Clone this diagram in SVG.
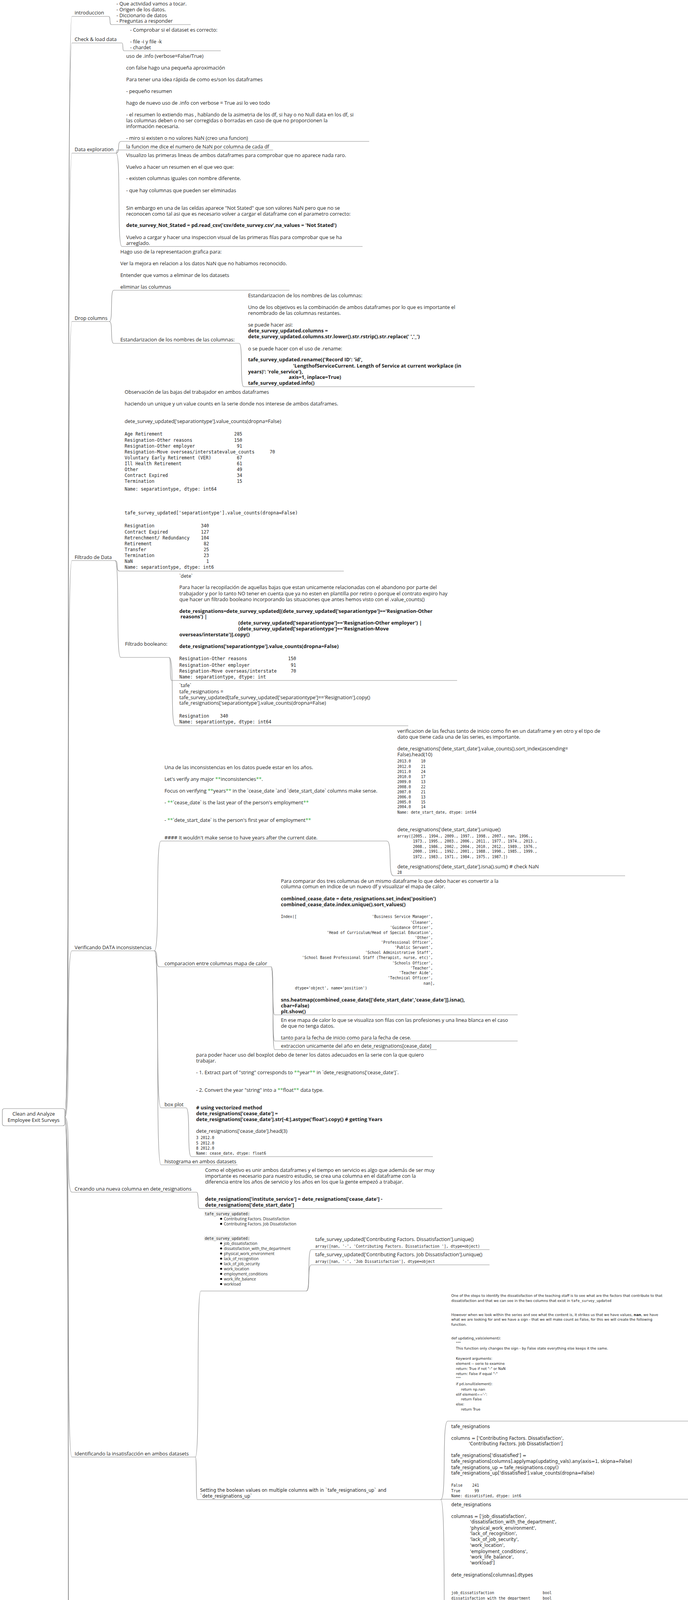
<svg xmlns="http://www.w3.org/2000/svg" width="1761" height="5922" viewBox="0 0 1761 5922">
<style>
text{font-family:"Open Sans","Liberation Sans",sans-serif;font-size:12.8px;fill:#1e1e1e}
.b{font-weight:bold}
.m{font-family:"DejaVu Sans Mono","Liberation Mono",monospace;font-size:11.5px}
.ms{font-family:"DejaVu Sans Mono","Liberation Mono",monospace;font-size:9.6px}
.mq{font-family:"DejaVu Sans Mono","Liberation Mono",monospace;font-size:10px}
.d{font-family:"DejaVu Sans","Liberation Sans",sans-serif;font-size:11.5px}
.dl{font-family:"DejaVu Sans","Liberation Sans",sans-serif;font-size:12px}
.ds{font-family:"DejaVu Sans","Liberation Sans",sans-serif;font-size:9px}
.dt{font-family:"DejaVu Sans","Liberation Sans",sans-serif;font-size:9.5px}
.sm{font-size:10px}
.br{font-weight:bold;font-size:10.5px}
.c{font-family:"Liberation Mono","DejaVu Sans Mono",monospace;font-size:11.5px;fill:#8a8a8a}
.e{text-anchor:end}
.mid{text-anchor:middle}
.g{fill:#3cb043}
path{fill:none;stroke:#8c8c8c;stroke-width:1.2}
.box{fill:#fff;stroke:#8c8c8c;stroke-width:1.2}
.bg{fill:#f1f1f1}
</style>

<g id="connectors">
<path d="M166,2860 C182.2,2860 167.8,42 184,42"/>
<path d="M166,2860 C182.2,2860 167.8,110 184,110"/>
<path d="M166,2860 C182.2,2860 167.8,392 184,392"/>
<path d="M166,2860 C182.2,2860 167.8,823 184,823"/>
<path d="M166,2860 C182.2,2860 167.8,1435 184,1435"/>
<path d="M166,2860 C182.2,2860 167.8,2434 184,2434"/>
<path d="M166,2860 C182.2,2860 167.8,3052 184,3052"/>
<path d="M166,2860 C182.2,2860 167.8,3730 184,3730"/>
<path d="M166,2860 C182.2,2860 167.8,4712 184,4712"/>
<path d="M166,2860 C182.2,2860 167.8,5233 184,5233"/>
<path d="M166,2860 C182.2,2860 167.8,5662 184,5662"/>
<path d="M278,42 C284.3,42 278.7,63 285,63"/>
<path d="M312,110 C316.5,110 312.5,130 317,130"/>
<path d="M297,392 C308.7,392 298.3,362 310,362"/>
<path d="M297,392 C300.6,392 297.4,384 301,384"/>
<path d="M297,392 C310.5,392 298.5,631 312,631"/>
<path d="M280,823 C289.9,823 281.1,743 291,743"/>
<path d="M280,823 C289.9,823 281.1,879 291,879"/>
<path d="M612,879 C622.8,879 613.2,990 624,990"/>
<path d="M294,1435 C304.8,1435 295.2,1462 306,1462"/>
<path d="M294,1435 C307.5,1435 295.5,1683 309,1683"/>
<path d="M433,1683 C438.4,1683 433.6,1742 439,1742"/>
<path d="M433,1683 C447.4,1683 434.6,1858 449,1858"/>
<path d="M395,2434 C410.3,2434 396.7,2153 412,2153"/>
<path d="M395,2434 C406.7,2434 396.3,2475 408,2475"/>
<path d="M395,2434 C410.3,2434 396.7,2836 412,2836"/>
<path d="M395,2434 C410.3,2434 396.7,2982 412,2982"/>
<path d="M990,2153 C1005.3,2153 991.7,2242 1007,2242"/>
<path d="M694,2475 C702.1,2475 694.9,2598 703,2598"/>
<path d="M694,2475 C702.1,2475 694.9,2665 703,2665"/>
<path d="M694,2475 C702.1,2475 694.9,2687 703,2687"/>
<path d="M476,2836 C488.6,2836 477.4,2961 490,2961"/>
<path d="M503,3052 C510.2,3052 503.8,3094 511,3094"/>
<path d="M500,3730 C512.6,3730 501.4,3305 514,3305"/>
<path d="M500,3730 C504.5,3730 500.5,3839 505,3839"/>
<path d="M784,3305 C795.7,3305 785.3,3199 797,3199"/>
<path d="M784,3305 C795.7,3305 785.3,3238 797,3238"/>
<path d="M1128,3839 C1144.2,3839 1129.8,3638 1146,3638"/>
<path d="M1128,3839 L1131,3838"/>
<path d="M1128,3839 C1144.2,3839 1129.8,4338 1146,4338"/>
<path d="M346,4712 C357.7,4712 347.3,4653 359,4653"/>
<path d="M346,4712 C361.3,4712 347.7,5059 363,5059"/>
<path d="M981,4653 C991.8,4653 982.2,4602 993,4602"/>
<path d="M981,4653 C991.8,4653 982.2,4704 993,4704"/>
<path d="M250,5233 C268,5233 252,5384 270,5384"/>
<path d="M280,5662 C296.2,5662 281.8,5452 298,5452"/>
<path d="M280,5662 C296.2,5662 281.8,5761 298,5761"/>
<path d="M918,5761 C930.6,5761 919.4,5598 932,5598"/>
<path d="M918,5761 C930.6,5761 919.4,5689 932,5689"/>
<path d="M918,5761 C930.6,5761 919.4,5899 932,5899"/>
</g>

<g id="root">
<rect class="box" x="6" y="2838" width="160" height="44" rx="5"/>
<text class="mid" x="86" y="2856">Clean and Analyze</text>
<text class="mid" x="86" y="2872">Employee Exit Surveys</text>
</g>

<!-- introduccion -->
<g id="n-introduccion"><text x="191" y="37">introduccion</text><path d="M184,42H278"/></g>
<g id="n-intro-items">
<text x="298" y="14">- Que actividad vamos a tocar.</text>
<text x="298" y="29">- Origen de los datos.</text>
<text x="298" y="44">- Diccionario de datos</text>
<text x="298" y="58">- Preguntas a responder</text>
<path d="M285,63H488"/>
</g>

<!-- check & load -->
<g id="n-check"><text x="191" y="105">Check &amp; load data</text><path d="M184,110H312"/></g>
<g id="n-check-items">
<text x="333" y="81">- Comprobar si el dataset es correcto:</text>
<text x="333" y="111">- file -i y file -k</text>
<text x="333" y="126">- chardet</text>
<path d="M317,130H565"/>
</g>

<!-- data exploration -->
<g id="n-dataexp"><text x="191" y="387">Data exploration</text><path d="M184,392H297"/></g>
<g id="n-dataexp-info">
<text x="323" y="148">uso de .info (verbose=False/True)</text>
<text x="323" y="178">con false hago una pequeña aproximación</text>
<text x="323" y="208">Para tener una idea rápida de como es/son los dataframes</text>
<text x="323" y="238">- pequeño resumen</text>
<text x="323" y="268">hago de nuevo uso de .info con verbose = True asi lo veo todo</text>
<text x="323" y="298">- el resumen lo extiendo mas , hablando de la asimetria de los df, si hay o no Null data en los df, si</text>
<text x="323" y="313">las columnas deben o no ser  corregidas o borradas en caso de que no proporcionen la</text>
<text x="323" y="328">información necesaria.</text>
<text x="323" y="358">- miro si existen o no valores NaN (creo una funcion)</text>
<path d="M310,362H945"/>
</g>
<g id="n-dataexp-nan">
<text x="323" y="380">la funcion me dice el numero de NaN por columna de cada df</text>
<path d="M301,384H699"/>
</g>
<g id="n-dataexp-visual">
<text x="323" y="402">Visualizo las primeras lineas de ambos dataframes para comprobar que no aparece nada raro.</text>
<text x="323" y="432">Vuelvo a hacer un resumen en el que veo que:</text>
<text x="323" y="461">- existen columnas iguales con nombre diferente.</text>
<text x="323" y="492">- que hay columnas que pueden ser eliminadas</text>
<text x="323" y="537">Sin embargo en una de las celdas aparece "Not Stated" que son valores NaN pero que no se</text>
<text x="323" y="552">reconocen como tal asi que es necesario volver a cargar el dataframe con el parametro correcto:</text>
<text class="b" x="323" y="581">dete_survey_Not_Stated = pd.read_csv('csv/dete_survey.csv',na_values = 'Not Stated')</text>
<text x="323" y="612">Vuelvo a cargar y hacer una inspeccion visual de las primeras filas para comprobar que se ha</text>
<text x="323" y="627">arreglado.</text>
<path d="M312,631H928"/>
</g>

<!-- drop columns -->
<g id="n-drop"><text x="191" y="819">Drop columns</text><path d="M184,823H280"/></g>
<g id="n-drop-graf">
<text x="308" y="649">Hago uso de la representacion grafica para:</text>
<text x="308" y="679">Ver la mejora en relacion a los datos NaN que no habiamos reconocido.</text>
<text x="308" y="709">Entender que vamos a eliminar de los datasets</text>
<text x="308" y="739">eliminar las columnas</text>
<path d="M291,743H741"/>
</g>
<g id="n-drop-estand">
<text x="308" y="874">Estandarizacion de los nombres de las columnas:</text>
<path d="M291,879H612"/>
</g>
<g id="n-drop-estand-detail">
<text x="635" y="761">Estandarizacion de los nombres de las columnas:</text>
<text x="635" y="791">Uno de los objetivos es la combinación de ambos dataframes por lo que es importante el</text>
<text x="635" y="806">renombrado de las columnas restantes.</text>
<text x="635" y="836">se puede hacer asi:</text>
<text class="b" x="635" y="851">dete_survey_updated.columns =</text>
<text class="b" x="635" y="866">dete_survey_updated.columns.str.lower().str.rstrip().str.replace(' ','_')</text>
<text x="635" y="897">o se puede hacer con el uso de .rename:</text>
<text class="b" x="635" y="925">tafe_survey_updated.rename({'Record ID': 'id',</text>
<text class="b" x="750" y="941">'LengthofServiceCurrent. Length of Service at current workplace (in</text>
<text class="b" x="635" y="956">years)': 'role_service'},</text>
<text class="b" x="739" y="970">axis=1, inplace=True)</text>
<text class="b" x="635" y="985">tafe_survey_updated.info()</text>
<path d="M624,990H1215"/>
</g>

<!-- filtrado -->
<g id="n-filtrado"><text x="191" y="1431">Filtrado de Data</text><path d="M184,1435H294"/></g>
<g id="n-filtrado-obs">
<text x="319" y="1008">Observación de las bajas del trabajador en ambos dataframes</text>
<text x="319" y="1038">haciendo un unique y un value counts en la serie donde nos interese de ambos dataframes.</text>
<text x="319" y="1083">dete_survey_updated['separationtype'].value_counts(dropna=False)</text>
<text class="m" x="319" y="1115">Age Retirement</text><text class="m e" x="620" y="1115">285</text>
<text class="m" x="319" y="1131">Resignation-Other reasons</text><text class="m e" x="620" y="1131">150</text>
<text class="m" x="319" y="1146">Resignation-Other employer</text><text class="m e" x="620" y="1146">91</text>
<text class="m" x="319" y="1161">Resignation-Move overseas/interstatevalue_counts</text><text class="m e" x="704" y="1161">70</text>
<text class="m" x="319" y="1176">Voluntary Early Retirement (VER)</text><text class="m e" x="620" y="1176">67</text>
<text class="m" x="319" y="1191">Ill Health Retirement</text><text class="m e" x="620" y="1191">61</text>
<text class="m" x="319" y="1206">Other</text><text class="m e" x="620" y="1206">49</text>
<text class="m" x="319" y="1221">Contract Expired</text><text class="m e" x="620" y="1221">34</text>
<text class="m" x="319" y="1236">Termination</text><text class="m e" x="620" y="1236">15</text>
<text class="m" x="319" y="1256">Name: separationtype, dtype: int64</text>
<text class="m" x="319" y="1317">tafe_survey_updated['separationtype'].value_counts(dropna=False)</text>
<text class="m" x="319" y="1350">Resignation</text><text class="m e" x="535" y="1350">340</text>
<text class="m" x="319" y="1366">Contract Expired</text><text class="m e" x="535" y="1366">127</text>
<text class="m" x="319" y="1381">Retrenchment/ Redundancy</text><text class="m e" x="535" y="1381">104</text>
<text class="m" x="319" y="1396">Retirement</text><text class="m e" x="535" y="1396">82</text>
<text class="m" x="319" y="1411">Transfer</text><text class="m e" x="535" y="1411">25</text>
<text class="m" x="319" y="1426">Termination</text><text class="m e" x="535" y="1426">23</text>
<text class="m" x="319" y="1441">NaN</text><text class="m e" x="535" y="1441">1</text>
<text class="m" x="319" y="1456">Name: separationtype, dtype: int6</text>
<path d="M306,1462H880"/>
</g>
<g id="n-filtrado-bool">
<text x="320" y="1653">Filtrado booleano:</text>
<path d="M309,1683H433"/>
</g>
<g id="n-filtrado-dete">
<text x="459" y="1479">`dete`</text>
<text x="459" y="1508">Para hacer la recopilación de aquellas bajas que estan unicamente relacionadas con el abandono por parte del</text>
<text x="459" y="1524">trabajador y por lo tanto NO tener en cuenta que ya no esten en plantilla por retiro o porque el contrato expiro hay</text>
<text x="459" y="1539">que hacer un filtrado booleano incorporando las situaciones que antes hemos visto con el .value_counts()</text>
<text class="b" x="459" y="1569">dete_resignations=dete_survey_updated[(dete_survey_updated['separationtype']=='Resignation-Other</text>
<text class="b" x="462" y="1583">reasons') |</text>
<text class="b" x="610" y="1599">(dete_survey_updated['separationtype']=='Resignation-Other employer') |</text>
<text class="b" x="610" y="1614">(dete_survey_updated['separationtype']=='Resignation-Move</text>
<text class="b" x="459" y="1629">overseas/interstate')].copy()</text>
<text class="b" x="459" y="1659">dete_resignations['separationtype'].value_counts(dropna=False)</text>
<text class="m" x="459" y="1690">Resignation-Other reasons</text><text class="m e" x="758" y="1690">150</text>
<text class="m" x="459" y="1707">Resignation-Other employer</text><text class="m e" x="758" y="1707">91</text>
<text class="m" x="459" y="1722">Resignation-Move overseas/interstate</text><text class="m e" x="758" y="1722">70</text>
<text class="m" x="459" y="1737">Name: separationtype, dtype: int</text>
<path d="M439,1742H1170"/>
</g>
<g id="n-filtrado-tafe">
<text x="459" y="1759">`tafe`</text>
<text x="459" y="1775">tafe_resignations =</text>
<text x="459" y="1790">tafe_survey_updated[tafe_survey_updated['separationtype']=='Resignation'].copy()</text>
<text x="459" y="1804">tafe_resignations['separationtype'].value_counts(dropna=False)</text>
<text class="m" x="459" y="1837">Resignation</text><text class="m e" x="584" y="1837">340</text>
<text class="m" x="459" y="1852">Name: separationtype, dtype: int64</text>
<path d="M449,1858H1045"/>
</g>

<!-- verificando -->
<g id="n-verif"><text x="191" y="2430">Verificando DATA inconsistencias</text><path d="M184,2434H395"/></g>
<g id="n-verif-years">
<text x="421" y="1969">Una de las inconsistencias en los datos puede estar en los años.</text>
<text x="421" y="1999">Let's verify any major <tspan class="g">**</tspan>inconsistencies<tspan class="g">**</tspan>.</text>
<text x="421" y="2029">Focus on verifying <tspan class="g">**</tspan>years<tspan class="g">**</tspan> in the `cease_date `and `dete_start_date` columns make sense.</text>
<text x="421" y="2059">- <tspan class="g">**</tspan>`cease_date` is the last year of the person's employment<tspan class="g">**</tspan></text>
<text x="421" y="2104">- <tspan class="g">**</tspan>`dete_start_date` is the person's first year of employment<tspan class="g">**</tspan></text>
<text x="421" y="2149">#### It wouldn't make sense to have years after the current date.</text>
<path d="M412,2153H990"/>
</g>
<g id="n-verif-fechas">
<text x="1017" y="1876">verificacion de las fechas tanto de inicio como fin en un dataframe y en otro y el tipo de</text>
<text x="1017" y="1891">dato que tiene cada una de las series, es importante.</text>
<text x="1017" y="1921">dete_resignations['dete_start_date'].value_counts().sort_index(ascending=</text>
<text x="1017" y="1936">False).head(10)</text>
<text class="ms" x="1017" y="1952">2013.0</text><text class="ms e" x="1089" y="1952">10</text>
<text class="ms" x="1017" y="1966">2012.0</text><text class="ms e" x="1089" y="1966">21</text>
<text class="ms" x="1017" y="1979">2011.0</text><text class="ms e" x="1089" y="1979">24</text>
<text class="ms" x="1017" y="1992">2010.0</text><text class="ms e" x="1089" y="1992">17</text>
<text class="ms" x="1017" y="2005">2009.0</text><text class="ms e" x="1089" y="2005">13</text>
<text class="ms" x="1017" y="2018">2008.0</text><text class="ms e" x="1089" y="2018">22</text>
<text class="ms" x="1017" y="2031">2007.0</text><text class="ms e" x="1089" y="2031">21</text>
<text class="ms" x="1017" y="2044">2006.0</text><text class="ms e" x="1089" y="2044">13</text>
<text class="ms" x="1017" y="2057">2005.0</text><text class="ms e" x="1089" y="2057">15</text>
<text class="ms" x="1017" y="2069">2004.0</text><text class="ms e" x="1089" y="2069">14</text>
<text class="ms" x="1017" y="2083">Name: dete_start_date, dtype: int64</text>
<text x="1017" y="2128">dete_resignations['dete_start_date'].unique()</text>
<text class="ms" x="1017" y="2144">array([2005., 1994., 2009., 1997., 1998., 2007.,   nan, 1996.,</text>
<text class="ms" x="1057" y="2157">1973., 1995., 2003., 2006., 2011., 1977., 1974., 2013.,</text>
<text class="ms" x="1057" y="2171">2008., 1986., 2002., 2004., 2010., 2012., 1989., 1976.,</text>
<text class="ms" x="1057" y="2183">2000., 1991., 1992., 2001., 1988., 1990., 1985., 1999.,</text>
<text class="ms" x="1057" y="2197">1972., 1983., 1971., 1984., 1975., 1987.])</text>
<text x="1017" y="2223">dete_resignations['dete_start_date'].isna().sum() # check NaN</text>
<text class="ms" x="1017" y="2237">28</text>
<path d="M1007,2242H1600"/>
</g>
<g id="n-verif-calor">
<text x="421" y="2471">comparacion entre columnas mapa de calor</text>
<path d="M408,2475H694"/>
</g>
<g id="n-verif-calor-code">
<text x="719" y="2260">Para comparar dos tres columnas de un mismo dataframe lo que debo hacer es convertir a la</text>
<text x="719" y="2274">columna comun en indice de un nuevo df y visualizar el mapa de calor.</text>
<text class="b" x="719" y="2305">combined_cease_date = dete_resignations.set_index('position')</text>
<text class="b" x="719" y="2320">combined_cease_date.index.unique().sort_values()</text>
<text class="ms" x="719" y="2350">Index([</text>
<text class="ms e" x="1108" y="2350">'Business Service Manager',</text>
<text class="ms e" x="1108" y="2365">'Cleaner',</text>
<text class="ms e" x="1108" y="2378">'Guidance Officer',</text>
<text class="ms e" x="1108" y="2391">'Head of Curriculum/Head of Special Education',</text>
<text class="ms e" x="1108" y="2404">'Other',</text>
<text class="ms e" x="1108" y="2416">'Professional Officer',</text>
<text class="ms e" x="1108" y="2429">'Public Servant',</text>
<text class="ms e" x="1108" y="2442">'School Administrative Staff',</text>
<text class="ms e" x="1108" y="2455">'School Based Professional Staff (Therapist, nurse, etc)',</text>
<text class="ms e" x="1108" y="2469">'Schools Officer',</text>
<text class="ms e" x="1108" y="2482">'Teacher',</text>
<text class="ms e" x="1108" y="2494">'Teacher Aide',</text>
<text class="ms e" x="1108" y="2507">'Technical Officer',</text>
<text class="ms e" x="1113" y="2521">nan],</text>
<text class="ms" x="755" y="2533">dtype='object', name='position')</text>
<text class="b" x="719" y="2564">sns.heatmap(combined_cease_date[['dete_start_date','cease_date']].isna(),</text>
<text class="b" x="719" y="2579">cbar=False)</text>
<text class="b" x="719" y="2594">plt.show()</text>
<path d="M703,2598H1325"/>
</g>
<g id="n-verif-calor-obs">
<text x="719" y="2616">En ese mapa de calor lo que se visualiza son filas con las profesiones y una linea blanca en el caso</text>
<text x="719" y="2631">de que no tenga datos.</text>
<text x="719" y="2661">tanto para la fecha de inicio como para la fecha de cese.</text>
<path d="M703,2665H1325"/>
</g>
<g id="n-verif-calor-extr">
<text x="719" y="2682">extraccion unicamente del año en dete_resignations[cease_date]</text>
<path d="M703,2687H1118"/>
</g>
<g id="n-verif-box">
<text x="421" y="2832">box plot</text>
<path d="M412,2836H476"/>
</g>
<g id="n-verif-box-code">
<text x="502" y="2705">para poder hacer uso del boxplot debo de tener los datos adecuados en la serie con la que quiero</text>
<text x="502" y="2720">trabajar.</text>
<text x="502" y="2750">- 1. Extract part of "string" corresponds to <tspan class="g">**</tspan>year<tspan class="g">**</tspan> in `dete_resignations['cease_date']`.</text>
<text x="502" y="2795">- 2. Convert the year "string" into a <tspan class="g">**</tspan>float<tspan class="g">**</tspan> data type.</text>
<text class="b" x="502" y="2840"># using vectorized method</text>
<text class="b" x="502" y="2855">dete_resignations['cease_date'] =</text>
<text class="b" x="502" y="2870">dete_resignations['cease_date'].str[-4:].astype('float').copy() # getting Years</text>
<text x="502" y="2900">dete_resignations['cease_date'].head(3)</text>
<text class="ms" x="502" y="2916">3    2012.0</text>
<text class="ms" x="502" y="2930">5    2012.0</text>
<text class="ms" x="502" y="2943">8    2012.0</text>
<text class="ms" x="502" y="2956">Name: cease_date, dtype: float6</text>
<path d="M490,2961H1108"/>
</g>
<g id="n-verif-hist">
<text x="421" y="2978">histograma en ambos datasets</text>
<path d="M412,2982H608"/>
</g>

<!-- creando -->
<g id="n-creando"><text x="191" y="3048">Creando una nueva columna en dete_resignations</text><path d="M184,3052H503"/></g>
<g id="n-creando-code">
<text x="525" y="3000">Como el objetivo es unir ambos dataframes y el tiempo en servicio es algo que además de ser muy</text>
<text x="525" y="3015">importante es necesario para nuestro estudio, se crea una columna en el dataframe con la</text>
<text x="525" y="3030">diferencia entre los años de servicio y los años en los que la gente empezó a trabajar.</text>
<text class="b" x="525" y="3074">dete_resignations['institute_service'] = dete_resignations['cease_date'] -</text>
<text class="b" x="525" y="3089">dete_resignations['dete_start_date']</text>
<path d="M511,3094H1132"/>
</g>

<!-- identificando -->
<g id="n-ident"><text x="191" y="3726">Identificando la insatisfacción en ambos datasets</text><path d="M184,3730H500"/></g>
<g id="n-ident-cols">
<rect class="bg" x="522" y="3101" width="117" height="13"/>
<text class="ms" x="524" y="3111">tafe_survey_updated:</text>
<circle cx="566" cy="3120" r="2.6"/><text class="sm" x="573" y="3124">Contributing Factors. Dissatisfaction</text>
<circle cx="566" cy="3133" r="2.6"/><text class="sm" x="573" y="3137">Contributing Factors. Job Dissatisfaction</text>
<rect class="bg" x="522" y="3164" width="117" height="13"/>
<text class="ms" x="524" y="3174">dete_survey_updated:</text>
<circle cx="566" cy="3183" r="2.6"/><text class="sm" x="573" y="3187">job_dissatisfaction</text>
<circle cx="566" cy="3196" r="2.6"/><text class="sm" x="573" y="3200">dissatisfaction_with_the_department</text>
<circle cx="566" cy="3209" r="2.6"/><text class="sm" x="573" y="3213">physical_work_environment</text>
<circle cx="566" cy="3222" r="2.6"/><text class="sm" x="573" y="3226">lack_of_recognition</text>
<circle cx="566" cy="3235" r="2.6"/><text class="sm" x="573" y="3239">lack_of_job_security</text>
<circle cx="566" cy="3248" r="2.6"/><text class="sm" x="573" y="3252">work_location</text>
<circle cx="566" cy="3261" r="2.6"/><text class="sm" x="573" y="3265">employment_conditions</text>
<circle cx="566" cy="3274" r="2.6"/><text class="sm" x="573" y="3278">work_life_balance</text>
<circle cx="566" cy="3287" r="2.6"/><text class="sm" x="573" y="3291">workload</text>
<path d="M514,3305H784"/>
</g>
<g id="n-ident-unique1">
<text x="807" y="3177">tafe_survey_updated['Contributing Factors. Dissatisfaction'].unique()</text>
<text class="ms" x="807" y="3194">array([nan, '-', 'Contributing Factors. Dissatisfaction '], dtype=object)</text>
<path d="M797,3199H1253"/>
</g>
<g id="n-ident-unique2">
<text x="807" y="3216">tafe_survey_updated['Contributing Factors. Job Dissatisfaction'].unique()</text>
<text class="ms" x="807" y="3233">array([nan, '-', 'Job Dissatisfaction'], dtype=object</text>
<path d="M797,3238H1253"/>
</g>
<g id="n-ident-setting">
<text class="d" x="512" y="3819">Setting the boolean values on multiple columns with in `tafe_resignations_up` and</text>
<text class="d" x="512" y="3834">`dete_resignations_up`</text>
<path d="M505,3839H1128"/>
</g>
<g id="n-ident-func">
<text class="ds" x="1155" y="3320">One of the steps to identify the dissatisfaction of the teaching staff is to see what are the factors that contribute to that</text>
<text class="ds" x="1155" y="3333">dissatisfaction and that we can see in the two columns that exist in <tspan class="ms" style="font-size:9px">tafe_survey_updated</tspan></text>
<text class="ds" x="1155" y="3369">However when we look within the series and see what the content is, it strikes us that we have values, <tspan class="b">nan</tspan>, we have</text>
<text class="ds" x="1155" y="3381">what we are looking for and we have a sign - that we will make count as False, for this we will create the following</text>
<text class="ds" x="1155" y="3394">function.</text>
<text class="ds" x="1155" y="3429">def updating_vals(element):</text>
<text class="ds" x="1167" y="3442">"""</text>
<text class="ds" x="1167" y="3455">This function only changes the sign - by False state everything else keeps it the same.</text>
<text class="ds" x="1167" y="3481">Keyword arguments:</text>
<text class="ds" x="1167" y="3494">element -- serie to examine</text>
<text class="ds" x="1167" y="3507">return: True if not "-" or NaN</text>
<text class="ds" x="1167" y="3520">return: False if equal "-"</text>
<text class="ds" x="1167" y="3532">"""</text>
<text class="ds" x="1167" y="3546">if pd.isnull(element):</text>
<text class="ds" x="1180" y="3560">return np.nan</text>
<text class="ds" x="1167" y="3573">elif element=='-':</text>
<text class="ds" x="1180" y="3585">return False</text>
<text class="ds" x="1167" y="3598">else:</text>
<text class="ds" x="1180" y="3611">return True</text>
<path d="M1146,3638H1761"/>
</g>
<g id="n-ident-tafe">
<text class="d" x="1155" y="3656">tafe_resignations</text>
<text class="d" x="1155" y="3686">columns = ['Contributing Factors. Dissatisfaction',</text>
<text class="d" x="1200" y="3700">'Contributing Factors. Job Dissatisfaction']</text>
<text class="d" x="1155" y="3730">tafe_resignations['dissatisfied'] =</text>
<text class="d" x="1155" y="3745">tafe_resignations[columns].applymap(updating_vals).any(axis=1, skipna=False)</text>
<text class="d" x="1155" y="3761">tafe_resignations_up = tafe_resignations.copy()</text>
<text class="d" x="1155" y="3775">tafe_resignations_up['dissatisfied'].value_counts(dropna=False)</text>
<text class="ms" x="1155" y="3806">False</text><text class="ms e" x="1226" y="3806">241</text>
<text class="ms" x="1155" y="3820">True</text><text class="ms e" x="1226" y="3820">99</text>
<text class="ms" x="1155" y="3833">Name: dissatisfied, dtype: int6</text>
<path d="M1131,3838H1761"/>
</g>
<g id="n-ident-dete">
<text class="d" x="1155" y="3856">dete_resignations</text>
<text class="d" x="1155" y="3886">columnas = ['job_dissatisfaction',</text>
<text class="d" x="1203" y="3900">'dissatisfaction_with_the_department',</text>
<text class="d" x="1203" y="3916">'physical_work_environment',</text>
<text class="d" x="1203" y="3930">'lack_of_recognition',</text>
<text class="d" x="1203" y="3945">'lack_of_job_security',</text>
<text class="d" x="1203" y="3960">'work_location',</text>
<text class="d" x="1203" y="3976">'employment_conditions',</text>
<text class="d" x="1203" y="3990">'work_life_balance',</text>
<text class="d" x="1203" y="4005">'workload']</text>
<text class="d" x="1155" y="4036">dete_resignations[columnas].dtypes</text>
<text class="ms" x="1155" y="4081">job_dissatisfaction</text><text class="ms" x="1389" y="4081">bool</text>
<text class="ms" x="1155" y="4095">dissatisfaction_with_the_department</text><text class="ms" x="1389" y="4095">bool</text>
<text class="ms" x="1155" y="4108">physical_work_environment</text><text class="ms" x="1389" y="4108">bool</text>
<text class="ms" x="1155" y="4121">lack_of_recognition</text><text class="ms" x="1389" y="4121">bool</text>
<text class="ms" x="1155" y="4134">lack_of_job_security</text><text class="ms" x="1389" y="4134">bool</text>
<text class="ms" x="1155" y="4147">work_location</text><text class="ms" x="1389" y="4147">bool</text>
<text class="ms" x="1155" y="4161">employment_conditions</text><text class="ms" x="1389" y="4161">bool</text>
<text class="ms" x="1155" y="4174">work_life_balance</text><text class="ms" x="1389" y="4174">bool</text>
<text class="ms" x="1155" y="4187">workload</text><text class="ms" x="1389" y="4187">bool</text>
<text class="ms" x="1155" y="4200">dtype: object</text>
<text class="d" x="1155" y="4230">dete_resignations['dissatisfied'] = dete_resignations[columnas].any(axis=1, skipna=False)</text>
<text class="d" x="1155" y="4244">dete_resignations_up = dete_resignations.copy()</text>
<text class="d" x="1155" y="4275">dete_resignations_up['dissatisfied'].value_counts(dropna=False) # only True or False</text>
<text class="ms" x="1155" y="4305">False</text><text class="ms e" x="1226" y="4305">162</text>
<text class="ms" x="1155" y="4319">True</text><text class="ms e" x="1226" y="4319">149</text>
<text class="ms" x="1155" y="4333">Name: dissatisfied, dtype: int64</text>
<path d="M1146,4338H1761"/>
</g>

<!-- combinando -->
<g id="n-comb"><text x="191" y="4706">combinando dataframes</text><path d="M184,4712H346"/></g>
<g id="n-comb-concat">
<text x="370" y="4408">Combining `dete_resignations_up` and `tafe_resignations_up`</text>
<text x="370" y="4438">First, let's add a column to each dataframe that will allow us to easily distinguish between the two.</text>
<text x="370" y="4468">- Add a column named institute to `dete_resignations_up`. Each row should contain the value</text>
<text x="370" y="4484"><tspan class="g">**</tspan>DETE<tspan class="g">**</tspan>.</text>
<text x="370" y="4528">- Add a column named institute to `tafe_resignations_up`. Each row should contain the value</text>
<text x="370" y="4544"><tspan class="g">**</tspan>TAFE<tspan class="g">**</tspan>.</text>
<text class="b" x="370" y="4588">dete_resignations_up['institute']='DETE' # help for differenciate df's.</text>
<text class="b" x="370" y="4604">tafe_resignations_up['institute']='TAFE'</text>
<text x="370" y="4634"><tspan class="b">combined = pd.concat([dete_resignations_up,tafe_resignations_up], axis = 0)</tspan> # axis = 0</text>
<text x="370" y="4649">means columns.</text>
<path d="M359,4653H981"/>
</g>
<g id="n-comb-dropna">
<text class="b" x="1001" y="4355">combined_updated = combined.dropna(axis = 1, thresh = 500).copy() #</text>
<text class="b" x="1001" y="4369">combined_updated</text>
<text x="1001" y="4400">thresh especifica el numero de NULL necesarios para eliminar la fila o la columna, esto depende</text>
<text x="1001" y="4414">del valor que tenga el parametro axis, 0 por defecto o 1 para las columnas.</text>
<text x="1001" y="4445">We still have some columns left in the dataframe that we don't need to complete our analysis, so</text>
<text x="1001" y="4459">using the `DataFrame.dropna()` method to drop <tspan class="g">**</tspan>any columns with less than 500<tspan class="g">**</tspan> with non</text>
<text x="1001" y="4475">null values.</text>
<text x="1001" y="4505">Until now we had not done anything with the NaN values neither in one df nor in the other</text>
<text x="1001" y="4520">because it was at this point where with the use of dropna (axis, thresh) we were going to take</text>
<text x="1001" y="4534">care of the NaN values</text>
<text x="1001" y="4580">As a result we see that the reduction of columns is significant, going from 53 to 10 and gives us</text>
<text x="1001" y="4594">an idea of the number of NaN values we had.</text>
<path d="M993,4602H1585"/>
</g>
<g id="n-comb-reset">
<text x="1001" y="4640">Joining two dataframes has a consequence...</text>
<text x="1001" y="4670">La necesidad de resetear el indice del nuevo dataframe</text>
<text class="b" x="1001" y="4700">combined_updated.reset_index(drop=True, inplace=True)</text>
<path d="M993,4704H1585"/>
</g>
<g id="n-comb-clean">
<text class="br" x="370" y="4721">Ahora que ya tenemos el dataframe unido vamos a  Cleaning <tspan class="ms" style="font-weight:normal">service_column</tspan></text>
<text class="br" x="370" y="4762">Comprobamos que tipos de datos hay en esa serie.</text>
<text class="br" x="370" y="4803">La idea es tener valores numericos limpios por lo que hemos de eliminar todo lo que sean simbolos, texto y</text>
<text class="br" x="370" y="4816">demás.</text>
<text x="370" y="4845">combined_updated[c_name] =</text>
<text x="370" y="4860">combined_updated[c_name].str.replace("[.^0][1-2^0]","",regex=True).copy()</text>
<text x="370" y="4874">combined_updated[c_name] = combined_updated[c_name].str.replace("Less than 1</text>
<text x="370" y="4890">year","0.5").copy()</text>
<text x="370" y="4905">combined_updated[c_name] = combined_updated[c_name].str.replace("More than 20</text>
<text x="370" y="4920">years","25").copy()</text>
<text x="370" y="4935">combined_updated[c_name] = combined_updated[c_name].str.replace("1-2","1.5").copy()</text>
<text x="370" y="4950">combined_updated[c_name] = combined_updated[c_name].str.replace("3-4","3.5").copy()</text>
<text x="370" y="4965">combined_updated[c_name] = combined_updated[c_name].str.replace("5-6","5.6").copy()</text>
<text x="370" y="4980">combined_updated[c_name] = combined_updated[c_name].str.replace("7-10","8.5").copy()</text>
<text x="370" y="4995">combined_updated[c_name] = pd.to_numeric(combined_updated[c_name], errors='coerce')</text>
<text x="370" y="5039">al final lo que hago es hacer un cast de tipo float</text>
<text x="370" y="5054">combined_updated[c_name].astype(float)</text>
<path d="M363,5059H975"/>
</g>

<!-- mapeado -->
<g id="n-mapeado"><text x="191" y="5229">mapeado</text><path d="M184,5233H250"/></g>
<g id="n-mapeado-func">
<text x="281" y="5077">para que quede mas claro, lo ideal es agrupar por tramos de edades a los profesores creando una</text>
<text x="281" y="5092">funcion:</text>
<text class="c" x="281" y="5120">def mapper(serie):</text>
<text class="c" x="309" y="5134">"""Change a value in years for a experience category: New - Experienced -</text>
<text class="c" x="281" y="5147">Established - Veteran</text>
<text class="c" x="309" y="5173">Keyword arguments:</text>
<text class="c" x="309" y="5186">serie -- series of the dataframe you want to convert</text>
<text class="c" x="309" y="5199">return -- depending on the values returns the categories.</text>
<text class="c" x="309" y="5211">"""</text>
<text class="c" x="309" y="5225">if pd.isnull(serie):</text>
<text class="c" x="336" y="5238">return np.nan</text>
<text class="c" x="309" y="5251">elif (serie &lt; 3): # Less than 3 years at a company</text>
<text class="c" x="336" y="5264">return 'New'</text>
<text class="c" x="309" y="5290">elif ((serie &gt;= 3) &amp; (serie &lt;= 6.0)): # 3-6 years at a company</text>
<text class="c" x="336" y="5303">return 'Experienced'</text>
<text class="c" x="309" y="5328">elif ((serie &gt;= 7.0) &amp; (serie &lt;= 10.0)): # 7-10 years at a company</text>
<text class="c" x="336" y="5341">return 'Established'</text>
<text class="c" x="309" y="5368">elif (serie &gt;= 11.0): #  11 or more years at a company</text>
<text class="c" x="336" y="5381">return 'Veteran'</text>
<path d="M270,5384H885"/>
</g>

<!-- analisis -->
<g id="n-analisis"><text x="191" y="5658">Analisis inicial</text><path d="M184,5662H280"/></g>
<g id="n-analisis-info">
<text class="dl" x="309" y="5401">En este punto se vuelve a hacer un .info para ver cuales son los datos con los que contamos.</text>
<text class="dl" x="309" y="5431">Hacemos un resumen de que es lo que  tenemos a nivel de datos y que es lo que estamos</text>
<text class="dl" x="309" y="5446">buscando.</text>
<path d="M298,5452H915"/>
</g>
<g id="n-analisis-questions">
<text class="dl b" x="309" y="5643" style="font-size:12.5px">The initial questions were as follows:</text>
<rect class="bg" x="357" y="5651" width="555" height="27"/>
<rect class="bg" x="357" y="5688" width="294" height="14"/>
<rect class="bg" x="357" y="5711" width="424" height="14"/>
<rect class="bg" x="357" y="5735" width="178" height="14"/>
<circle cx="350" cy="5659" r="3"/>
<text class="mq" x="359" y="5662">1.Are employees who only worked for the institutes for a short period of time resigning due</text>
<text class="mq" x="359" y="5675">to some kind of dissatisfaction?</text>
<circle cx="350" cy="5695" r="3"/>
<text class="mq" x="359" y="5699">2.What about employees who have been there longer?</text>
<circle cx="350" cy="5718" r="3"/>
<text class="mq" x="359" y="5722">3.Are younger employees resigning due to some kind of dissatisfaction?</text>
<circle cx="350" cy="5742" r="3"/>
<text class="mq" x="359" y="5746">4.What about older employees?</text>
<path d="M298,5761H918"/>
</g>
<g id="n-analisis-pivot">
<text class="d" x="941" y="5468">general idea of how dissatisfied are the different categories:</text>
<text class="d" x="941" y="5499">mediante el uso de pd.pivot_tables(values=xxx, index=hhh, aggfunc=)</text>
<text class="dt b" x="1015" y="5517">dissatisfied</text>
<text class="dt b" x="948" y="5537">service_cat</text>
<rect class="bg" x="944" y="5542" width="140" height="13"/>
<rect class="bg" x="944" y="5568" width="140" height="13"/>
<text class="dt b e" x="1012" y="5552">Established</text><text class="dt e" x="1081" y="5552">51.612903</text>
<text class="dt b e" x="1012" y="5565">Experienced</text><text class="dt e" x="1081" y="5565">34.302326</text>
<text class="dt b e" x="1012" y="5578">New</text><text class="dt e" x="1081" y="5578">29.533679</text>
<text class="dt b e" x="1012" y="5592">Veteran</text><text class="dt e" x="1081" y="5592">48.529412</text>
<path d="M932,5598H1380"/>
</g>
<g id="n-analisis-plot">
<text class="d" x="941" y="5614">una grafica tambien</text>
<text class="dt" x="941" y="5643">comb_serv_diss = combined_updated.pivot_table(values='dissatisfied', index='service_cat', aggfunc=np.mean)</text>
<text class="dt" x="941" y="5671">comb_serv_diss.plot(kind='barh',title="service category vs % dissatisfied",xlim=(0,1),legend=True)</text>
<text class="dt" x="941" y="5684">plt.show()</text>
<path d="M932,5689H1505"/>
</g>
<g id="n-analisis-short">
<text class="dl b" x="941" y="5705">Employees who only worked for the institutes for a short period of time</text>
<text class="d" x="941" y="5735">Are employees who only worked for the institutes for a short period of time resigning due to some</text>
<text class="d" x="941" y="5750">kind of dissatisfaction?</text>
<text class="ms" x="941" y="5781">Resignation</text><text class="ms e" x="1235" y="5781">63.157895</text>
<text class="ms" x="941" y="5795">Resignation-Other reasons</text><text class="ms e" x="1235" y="5795">15.789474</text>
<text class="ms" x="941" y="5808">Resignation-Move overseas/interstate</text><text class="ms e" x="1235" y="5808">12.280702</text>
<text class="ms" x="941" y="5822">Resignation-Other employer</text><text class="ms e" x="1235" y="5822">8.771930</text>
<text class="ms" x="941" y="5834">Name: separationtype, dtype: float64</text>
<text class="d" x="941" y="5879">The various reasons why new people leave the job are varied, however job resignations are very</text>
<text class="d" x="941" y="5894">high being at the top of the list.</text>
<path d="M932,5899H1547"/>
</g>
</svg>
